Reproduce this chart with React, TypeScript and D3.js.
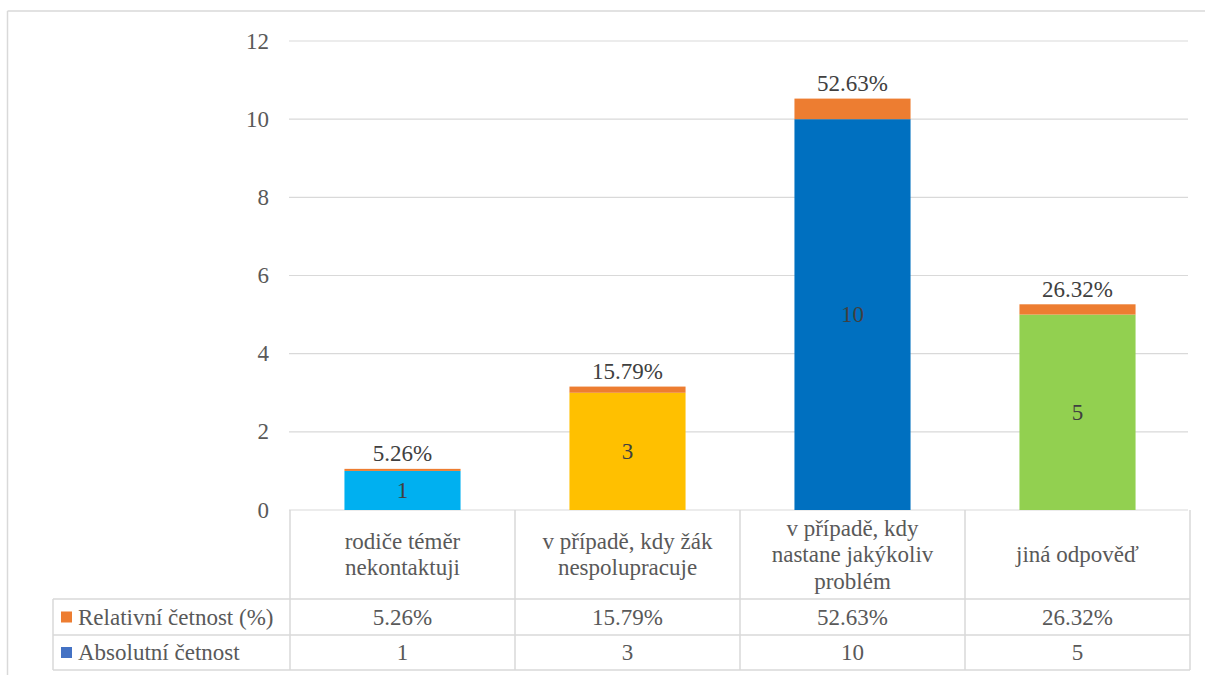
import React, { useEffect, useRef } from "react";
import * as d3 from "d3";

const categories: string[][] = [
  ["rodiče téměr", "nekontaktuji"],
  ["v případě, kdy žák", "nespolupracuje"],
  ["v případě, kdy", "nastane jakýkoliv", "problém"],
  ["jiná odpověď"],
];
const absolute: number[] = [1, 3, 10, 5];
const relative: number[] = [0.0526, 0.1579, 0.5263, 0.2632];
const relativeLabels: string[] = ["5.26%", "15.79%", "52.63%", "26.32%"];
const barColors: string[] = ["#00B0F0", "#FFC000", "#0070C0", "#92D050"];
const yTicks: number[] = [0, 2, 4, 6, 8, 10, 12];
const seriesNames: string[] = ["Relativní četnost (%)", "Absolutní četnost"];
const seriesColors: string[] = ["#ED7D31", "#4472C4"];

const W = 1205;
const H = 675;
const GRID = "#D9D9D9";
const TXT = "#595959";
const LBL = "#404040";
const famParts: string[] = ["Liberation", "Serif"];

export default function App() {
  const ref = useRef<SVGSVGElement>(null);

  useEffect(() => {
    const fam = `"${famParts.join(" ")}"`;
    const svg = d3.select(ref.current);
    svg.selectAll("*").remove();
    const fs = 23;
    const idx = categories.map((_, i) => String(i));
    const x = d3.scaleBand<string>().domain(idx).range([290, 1190]).paddingInner(0.484).paddingOuter(0.242);
    const y = d3.scaleLinear().domain([0, 12]).range([510, 41]);
    const step = x.step();
    const colEdges = idx.map((k) => (x(k) as number) - (x.paddingInner() * step) / 2);
    const tableLeft = 53;
    const tableRight = 1190;
    const rowTops = [599, 635, 670];

    const txt = (g: any, xx: number, yy: number, s: string, anchor: string, color: string, dy = "0.33em") =>
      g
        .append("text")
        .attr("x", xx)
        .attr("y", yy)
        .attr("dy", dy)
        .attr("text-anchor", anchor)
        .attr("font-size", fs)
        .attr("fill", color)
        .style("font-family", fam)
        .text(s);

    svg.append("rect").attr("width", W).attr("height", H).attr("fill", "#fff");
    const ln = (x1: number, y1: number, x2: number, y2: number, w = 1.5) =>
      svg.append("line").attr("x1", x1).attr("y1", y1).attr("x2", x2).attr("y2", y2).attr("stroke", GRID).attr("stroke-width", w);
    ln(7.5, 11, W, 11);
    ln(7.5, 11, 7.5, H);

    yTicks.forEach((t) => {
      ln(289, y(t), 1188, y(t), 1.2);
      txt(svg, 269, y(t), String(t), "end", TXT);
    });

    idx.forEach((k, i) => {
      const bx = x(k) as number;
      const bw = x.bandwidth();
      const a = absolute[i];
      const r = relative[i];
      svg.append("rect").attr("x", bx).attr("width", bw).attr("y", y(a)).attr("height", y(0) - y(a)).attr("fill", barColors[i]);
      svg.append("rect").attr("x", bx).attr("width", bw).attr("y", y(a + r)).attr("height", y(a) - y(a + r)).attr("fill", seriesColors[0]);
      txt(svg, bx + bw / 2, (y(0) + y(a)) / 2, String(a), "middle", LBL);
      txt(svg, bx + bw / 2, y(a + r) - 7.5, relativeLabels[i], "middle", LBL, "0");
    });

    [...colEdges, tableRight].forEach((cx) => ln(cx, 510, cx, 670));
    ln(tableLeft, rowTops[0], tableLeft, rowTops[2]);
    rowTops.forEach((ry) => ln(tableLeft, ry, tableRight, ry));

    categories.forEach((lines, i) => {
      const cx = (x(String(i)) as number) + x.bandwidth() / 2;
      const lh = 26.5;
      const mid = (510 + 599) / 2;
      const start = mid - ((lines.length - 1) * lh) / 2;
      lines.forEach((l, j) => txt(svg, cx, start + j * lh, l, "middle", TXT));
    });

    seriesNames.forEach((s, r) => {
      const cy = (rowTops[r] + rowTops[r + 1]) / 2;
      svg.append("rect").attr("x", 61).attr("y", cy - 5.5).attr("width", 11).attr("height", 11).attr("fill", seriesColors[r]);
      txt(svg, 78, cy, s, "start", TXT);
    });

    idx.forEach((k, i) => {
      const cx = (x(k) as number) + x.bandwidth() / 2;
      txt(svg, cx, (rowTops[0] + rowTops[1]) / 2, relativeLabels[i], "middle", TXT);
      txt(svg, cx, (rowTops[1] + rowTops[2]) / 2, String(absolute[i]), "middle", TXT);
    });
  }, []);

  return <svg ref={ref} width={W} height={H} style={{ position: "absolute", left: 0, top: 0 }} />;
}
